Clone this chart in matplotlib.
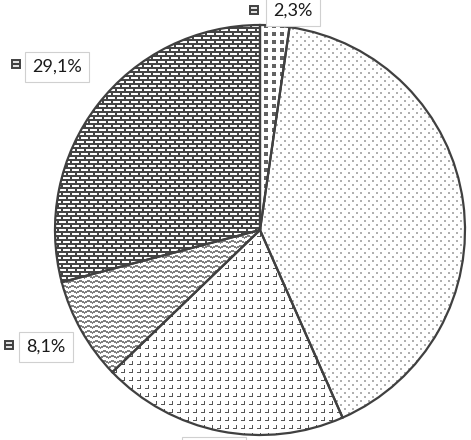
import numpy as np
import matplotlib
matplotlib.use('Agg')
import matplotlib.pyplot as plt
from matplotlib.patches import Rectangle

# Data (clockwise from 12 o'clock)
values = [2.3, 41.1, 19.4, 8.1, 29.1]
label_texts = ['2,3%', '41,1%', '19,4%', '8,1%', '29,1%']
show_label = [True, False, True, True, True]

W, H = 471, 440
fig = plt.figure(figsize=(W / 100, H / 100), dpi=100)
ax = fig.add_axes([0, 0, 1, 1])

cx, cy, R = 260, 210, 205
wedges, _ = ax.pie(values, startangle=90, counterclock=False, radius=R,
                   center=(cx, cy), frame=True,
                   wedgeprops=dict(facecolor='white', edgecolor='none'))
ax.set_xlim(0, W)
ax.set_ylim(0, H)
ax.set_aspect('equal')
ax.axis('off')

yy, xx = np.mgrid[0:H, 0:W]


def img_from(mask, color):
    c = np.array(matplotlib.colors.to_rgb(color))
    img = np.ones((H, W, 3))
    img[mask] = c
    return img


def squares():
    return (xx % 8 < 4) & (yy % 8 < 4)


def light_dots():
    row = yy // 4
    sh = (row % 2) * 4
    return (yy % 4 < 2) & (((xx + sh) % 8) < 2)


def ldots():
    px = xx % 8
    py = yy % 8
    return ((px == 4) & (py >= 1) & (py <= 4)) | ((py == 4) & (px >= 1) & (px <= 4))


def wavy():
    phase = xx % 8
    off = np.where(phase < 4, phase, 8 - phase) // 2
    return ((yy - off) % 5) < 2


def bricks():
    row = yy % 8
    col = xx % 9
    col2 = (xx + 4) % 9
    white1 = (row >= 1) & (row <= 2) & (col <= 6)
    white2 = (row >= 5) & (row <= 6) & (col2 <= 6)
    return ~(white1 | white2)


patterns = [(squares(), '#626262'), (light_dots(), '#b0b0b0'),
            (ldots(), '#555555'), (wavy(), '#808080'), (bricks(), '#454545')]

for w, (m, col) in zip(wedges, patterns):
    im = ax.imshow(img_from(m, col), extent=(0, W, 0, H), origin='upper',
                   interpolation='nearest', zorder=1)
    im.set_clip_path(w)

# Wedge outlines
for w in wedges:
    p = matplotlib.patches.Wedge(w.center, w.r, w.theta1, w.theta2,
                                 facecolor='none', edgecolor='#404040',
                                 linewidth=1.6, zorder=3)
    ax.add_patch(p)

ax.set_xlim(0, W)
ax.set_ylim(0, H)

# Labels (pixel positions measured from top)
label_pos = [(293, 11), None, (214, 452), (46, 347), (57, 67)]
icon_pos = [(254, 10), None, None, (9, 345), (16, 64)]
for i, t in enumerate(label_texts):
    if not show_label[i] or label_pos[i] is None:
        continue
    x, y = label_pos[i]
    ax.text(x, H - y, t, ha='center', va='center', fontsize=13,
            family=['Lato', 'DejaVu Sans'], color='#1a1a1a', zorder=5,
            bbox=dict(boxstyle='square,pad=0.4', facecolor='white',
                      edgecolor='#d0d0d0', linewidth=0.8))
    if icon_pos[i] is not None:
        ix, iy = icon_pos[i]
        ax.add_patch(Rectangle((ix - 4, H - iy - 4), 8, 8, facecolor='#e0e0e0',
                               edgecolor='#404040', linewidth=1.4, zorder=5))
        ax.add_patch(Rectangle((ix - 4, H - iy - 1), 8, 2, facecolor='#404040',
                               edgecolor='none', zorder=6))

fig.savefig('out.png', dpi=100)
